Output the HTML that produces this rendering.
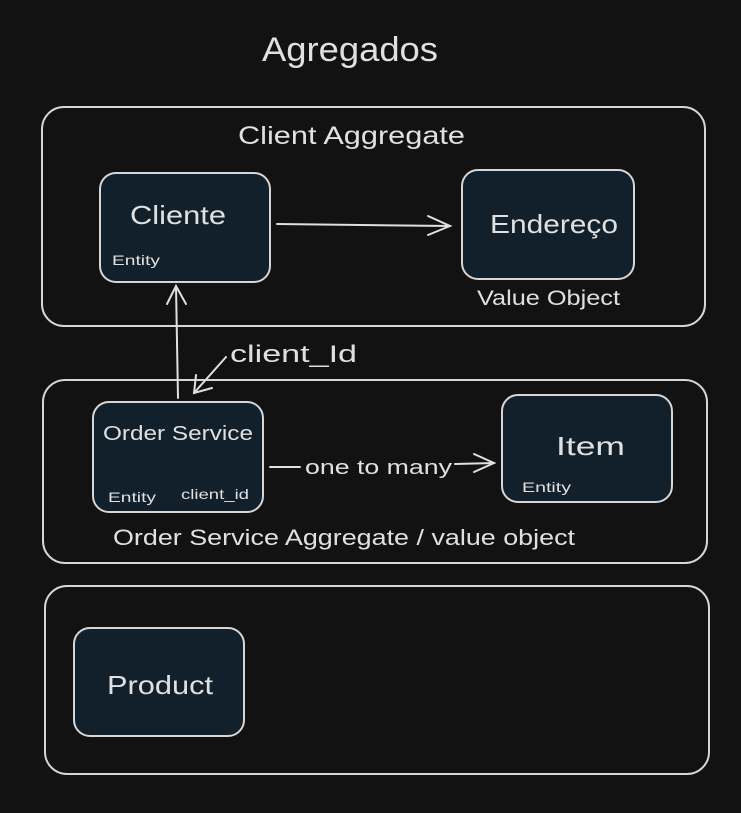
<!DOCTYPE html>
<html><head><meta charset="utf-8"><style>
html,body{margin:0;padding:0;background:#121212;}
svg{display:block;}
text{font-family:"Liberation Sans",sans-serif;fill:#e0e0e0;}
</style></head><body>
<svg width="741" height="813" viewBox="0 0 741 813" xmlns="http://www.w3.org/2000/svg">
<rect width="741" height="813" fill="#121212"/>
<g fill="none" stroke="#d6d6d6" stroke-width="2">
<rect x="42" y="107" width="663" height="219" rx="22"/>
<rect x="43" y="380" width="664" height="183" rx="22"/>
<rect x="45" y="586" width="664" height="188" rx="22"/>
</g>
<g fill="#12202b" stroke="#d6d6d6" stroke-width="2">
<rect x="100" y="173" width="170" height="109" rx="16"/>
<rect x="462" y="170" width="172" height="109" rx="16"/>
<rect x="93" y="402" width="170" height="110" rx="16"/>
<rect x="502" y="395" width="170" height="107" rx="16"/>
<rect x="74" y="628" width="170" height="108" rx="16"/>
</g>
<g fill="none" stroke="#e0e0e0" stroke-width="2" stroke-linecap="round">
<path d="M277 224 L450 226"/>
<path d="M428 216 L450 226 L428 235"/>
<path d="M178 398 L176 286"/>
<path d="M167 304 L176 286 L186 304"/>
<path d="M226 357 L194 393"/>
<path d="M196 375 L194 393 L212 388"/>
<path d="M270 467 L300 467"/>
<path d="M455 464 L494 463"/>
<path d="M474 454 L494 463 L474 472"/>
</g>
<text x="262" y="61" font-size="34" textLength="176" lengthAdjust="spacingAndGlyphs">Agregados</text>
<text x="238" y="144" font-size="25" textLength="227" lengthAdjust="spacingAndGlyphs">Client Aggregate</text>
<text x="130" y="224" font-size="26" textLength="96" lengthAdjust="spacingAndGlyphs">Cliente</text>
<text x="112" y="265" font-size="14" textLength="48" lengthAdjust="spacingAndGlyphs">Entity</text>
<text x="490" y="233" font-size="26" textLength="128" lengthAdjust="spacingAndGlyphs">Endereço</text>
<text x="477" y="305" font-size="21" textLength="143" lengthAdjust="spacingAndGlyphs">Value Object</text>
<text x="230" y="362" font-size="24" textLength="127" lengthAdjust="spacingAndGlyphs">client_Id</text>
<text x="103" y="440" font-size="20" textLength="150" lengthAdjust="spacingAndGlyphs">Order Service</text>
<text x="108" y="502" font-size="14" textLength="48" lengthAdjust="spacingAndGlyphs">Entity</text>
<text x="181" y="499" font-size="14" textLength="68" lengthAdjust="spacingAndGlyphs">client_id</text>
<text x="305" y="474" font-size="20" textLength="147" lengthAdjust="spacingAndGlyphs">one to many</text>
<text x="556" y="455" font-size="26" textLength="69" lengthAdjust="spacingAndGlyphs">Item</text>
<text x="522" y="492" font-size="14" textLength="49" lengthAdjust="spacingAndGlyphs">Entity</text>
<text x="113" y="545" font-size="22" textLength="462" lengthAdjust="spacingAndGlyphs">Order Service Aggregate / value object</text>
<text x="107" y="694" font-size="26" textLength="106" lengthAdjust="spacingAndGlyphs">Product</text>
</svg>
</body></html>
